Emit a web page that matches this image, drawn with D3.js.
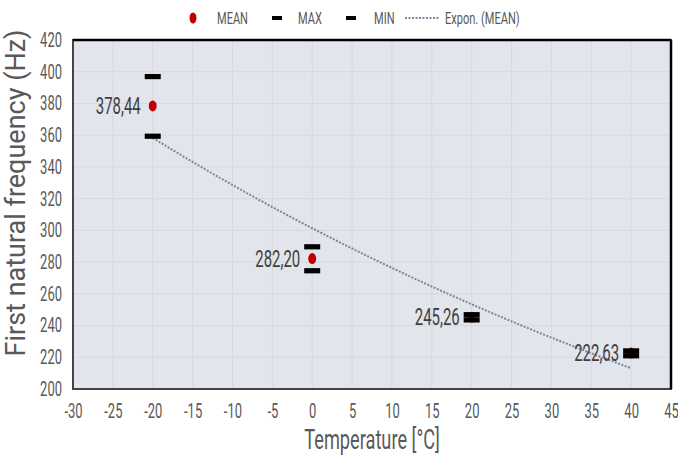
<!DOCTYPE html>
<html>
<head>
<meta charset="utf-8">
<script src="https://cdn.jsdelivr.net/npm/d3@7"></script>
<style>
  body { margin: 0; background: #fff; }
  svg text { font-family: Roboto, "Liberation Sans", sans-serif; fill: #595959; }
</style>
</head>
<body>
<div id="chart"></div>
<script>
// temperatures (°C) and measured first natural frequency (Hz)
var temps = [-20, 0, 20, 40];
var meanVals = [378.44, 282.20, 245.26, 222.63];
var maxVals = [397.0, 289.7, 246.9, 224.1];
var minVals = [359.4, 274.6, 243.6, 221.0];
var meanLabels = ['378,44', '282,20', '245,26', '222,63'];
var xTicks = [-30, -25, -20, -15, -10, -5, 0, 5, 10, 15, 20, 25, 30, 35, 40, 45];
var yTicks = [200, 220, 240, 260, 280, 300, 320, 340, 360, 380, 400, 420];

var W = 678, H = 457;
var K = 0.65; // horizontal squeeze of the text, as in the reference
var margin = { left: 73, right: 7, top: 40, bottom: 68 };
var width = W - margin.left - margin.right,
    height = H - margin.top - margin.bottom;

var svg = d3.select('#chart').append('svg')
    .attr('width', W)
    .attr('height', H);

// put a squeezed text at (x, y)
function squeezed(parent, x, y, txt, size, anchor) {
    return parent.append('text')
        .attr('transform', 'translate(' + x + ',' + y + ') scale(' + K + ',1)')
        .attr('text-anchor', anchor || 'start')
        .attr('dy', '0.35em')
        .style('font-size', size + 'px')
        .text(txt);
}

var xScale = d3.scaleLinear().domain([-30, 45]).range([0, width]);
var yScale = d3.scaleLinear().domain([200, 420]).range([height, 0]);

var g = svg.append('g')
    .attr('transform', 'translate(' + margin.left + ',' + margin.top + ')');

// plot background
g.append('rect')
    .attr('width', width).attr('height', height)
    .attr('fill', '#e3e5ed');

// grid
g.append('g').selectAll('line').data(xTicks).enter().append('line')
    .attr('x1', function(d) { return xScale(d); })
    .attr('x2', function(d) { return xScale(d); })
    .attr('y1', 0).attr('y2', height)
    .attr('stroke', '#d8d8dc').attr('stroke-width', 1);
g.append('g').selectAll('line').data(yTicks).enter().append('line')
    .attr('y1', function(d) { return yScale(d); })
    .attr('y2', function(d) { return yScale(d); })
    .attr('x1', 0).attr('x2', width)
    .attr('stroke', '#d8d8dc').attr('stroke-width', 1);

// axes (labels only)
var xAxis = d3.axisBottom(xScale).tickValues(xTicks).tickSize(0).tickPadding(15)
    .tickFormat(function(d) { return String(d); });
var yAxis = d3.axisLeft(yScale).tickValues(yTicks).tickSize(0)
    .tickFormat(function(d) { return String(d); });

var gx = g.append('g').attr('transform', 'translate(0,' + height + ')').call(xAxis);
var gy = g.append('g').call(yAxis);
[gx, gy].forEach(function(a) {
    a.select('.domain').remove();
    a.selectAll('text')
        .attr('fill', '#595959')
        .attr('transform', 'scale(' + K + ',1)')
        .style('font-size', '20px')
        .style('font-family', 'Roboto, "Liberation Sans", sans-serif');
});
gy.selectAll('text').attr('x', -11 / K);

// exponential trendline fit to MEAN (least squares on ln y)
var n = temps.length;
var lnY = meanVals.map(function(v) { return Math.log(v); });
var mx = d3.mean(temps), my = d3.mean(lnY);
var sxy = d3.sum(temps, function(t, i) { return (t - mx) * (lnY[i] - my); });
var sxx = d3.sum(temps, function(t) { return (t - mx) * (t - mx); });
var b = sxy / sxx, a = Math.exp(my - b * mx);
var trendX = d3.range(temps[0], temps[n - 1] + 0.01, 1);
var line = d3.line()
    .x(function(t) { return xScale(t); })
    .y(function(t) { return yScale(a * Math.exp(b * t)); });
g.append('path')
    .datum(trendX)
    .attr('d', line)
    .attr('fill', 'none')
    .attr('stroke', '#7a869c')
    .attr('stroke-width', 2)
    .attr('stroke-dasharray', '2,1.5');

// MEAN points
g.append('g').selectAll('ellipse').data(temps).enter().append('ellipse')
    .attr('cx', function(d) { return xScale(d); })
    .attr('cy', function(d, i) { return yScale(meanVals[i]); })
    .attr('rx', 4).attr('ry', 5.5)
    .attr('fill', '#c00000');

// MAX / MIN dashes
function dashes(vals) {
    g.append('g').selectAll('rect').data(temps).enter().append('rect')
        .attr('x', function(d) { return xScale(d) - 8; })
        .attr('y', function(d, i) { return yScale(vals[i]) - 2.5; })
        .attr('width', 16).attr('height', 5.2)
        .attr('fill', '#000');
}
dashes(maxVals);
dashes(minVals);

// data labels
temps.forEach(function(t, i) {
    squeezed(g, xScale(t) - 12, yScale(meanVals[i]), meanLabels[i], 23, 'end')
        .style('fill', '#404040');
});

// frame
g.append('rect')
    .attr('width', width).attr('height', height)
    .attr('fill', 'none')
    .attr('stroke', '#444').attr('stroke-width', 2);
g.append('line').attr('x1', 0).attr('x2', width).attr('y1', 0).attr('y2', 0)
    .attr('stroke', '#000').attr('stroke-width', 2.5);
g.append('line').attr('x1', width).attr('x2', width).attr('y1', 0).attr('y2', height)
    .attr('stroke', '#000').attr('stroke-width', 2.5);

// axis titles
squeezed(svg, 372, 439, 'Temperature [°C]', 28, 'middle');
svg.append('text')
    .attr('transform', 'translate(25,193) rotate(-90)')
    .attr('text-anchor', 'middle')
    .style('font-size', '27px')
    .text('First natural frequency (Hz)');

// legend
var ly = 18;
svg.append('ellipse').attr('cx', 193).attr('cy', ly).attr('rx', 3.5).attr('ry', 5.5).attr('fill', '#c00000');
squeezed(svg, 217, ly, 'MEAN', 17);
svg.append('rect').attr('x', 272).attr('y', ly - 2).attr('width', 10).attr('height', 4).attr('fill', '#000');
squeezed(svg, 298, ly, 'MAX', 17);
svg.append('rect').attr('x', 346).attr('y', ly - 2).attr('width', 10).attr('height', 4).attr('fill', '#000');
squeezed(svg, 374, ly, 'MIN', 17);
svg.append('line').attr('x1', 405).attr('x2', 439).attr('y1', ly).attr('y2', ly)
    .attr('stroke', '#7a869c').attr('stroke-width', 2).attr('stroke-dasharray', '2,1.5');
squeezed(svg, 445, ly, 'Expon. (MEAN)', 17);
</script>
</body>
</html>
